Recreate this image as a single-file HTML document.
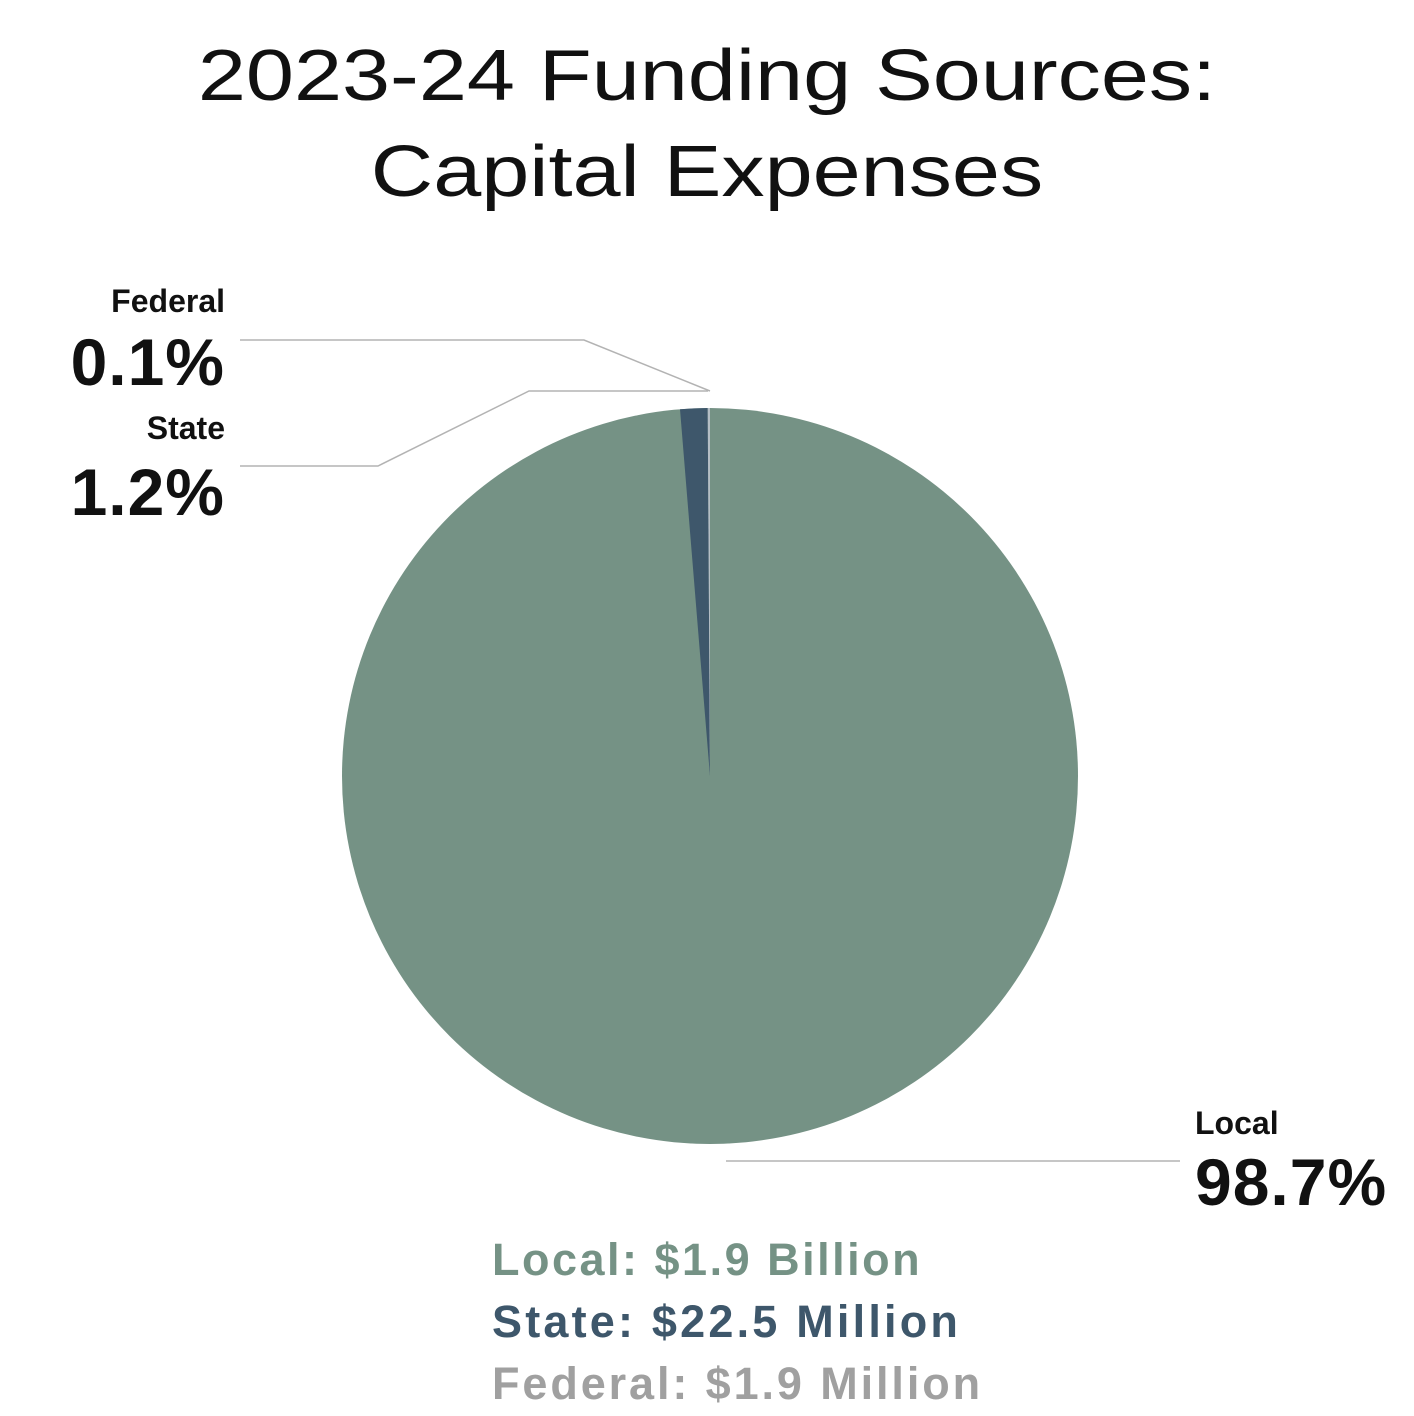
<!DOCTYPE html>
<html><head><meta charset="utf-8"><style>
html,body{margin:0;padding:0;background:#fff;}
body{width:1414px;height:1416px;position:relative;overflow:hidden;font-family:"Liberation Sans",sans-serif;}
.t{position:absolute;white-space:nowrap;}
.p{font-size:66px;font-weight:bold;color:#111;letter-spacing:1px;}
</style></head><body>
<div class="t" style="left:0;width:1414px;text-align:center;top:28px;font-size:72px;line-height:96px;color:#111;transform:scaleX(1.2);transform-origin:707px 0;">2023-24 Funding Sources:<br>Capital Expenses</div>
<svg width="1414" height="1416" style="position:absolute;left:0;top:0">
<circle cx="710" cy="776" r="368" fill="#759285"/>
<path d="M710,776 L680,409.2 A368,368 0 0 1 707.7,408 Z" fill="#3e576b"/>
<path d="M710,776 L707.7,408 A368,368 0 0 1 710,408 Z" fill="#b5bec5"/>
<g stroke="#b3b3b3" stroke-width="1.5" fill="none">
<polyline points="240,340 584,340 710,391"/>
<polyline points="240,466 378,466 529,391 708,391"/>
<line x1="726" y1="1161" x2="1180" y2="1161"/>
</g>
</svg>
<div class="t" style="right:1189px;top:283px;font-size:32px;font-weight:bold;color:#111;">Federal</div>
<div class="t p" style="right:1189px;top:324px;">0.1%</div>
<div class="t" style="right:1189px;top:410px;font-size:32px;font-weight:bold;color:#111;">State</div>
<div class="t p" style="right:1189px;top:454px;">1.2%</div>
<div class="t" style="left:1195px;top:1105px;font-size:32px;font-weight:bold;color:#111;">Local</div>
<div class="t p" style="left:1195px;top:1144px;">98.7%</div>
<div class="t" style="left:492px;top:1230px;font-size:45px;font-weight:bold;color:#759285;line-height:60px;letter-spacing:2.5px;">Local: $1.9 Billion</div>
<div class="t" style="left:492px;top:1292px;font-size:45px;font-weight:bold;color:#3e576b;line-height:60px;letter-spacing:3.2px;">State: $22.5 Million</div>
<div class="t" style="left:492px;top:1354px;font-size:45px;font-weight:bold;color:#a0a0a0;line-height:60px;letter-spacing:2.9px;">Federal: $1.9 Million</div>
</body></html>
